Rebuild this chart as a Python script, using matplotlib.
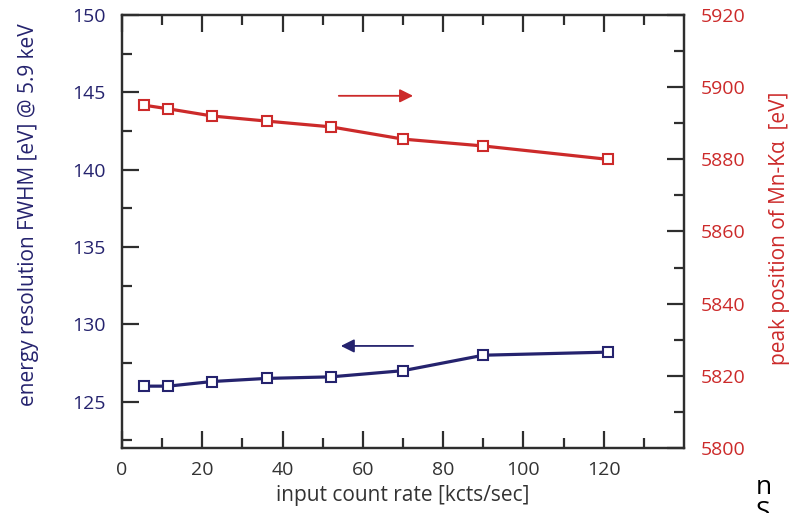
import matplotlib
matplotlib.use('Agg')
import matplotlib.pyplot as plt
from matplotlib.ticker import MultipleLocator

plt.rcParams['font.family'] = ['Open Sans', 'DejaVu Sans']

# data
rate = [5.5, 11.5, 22.5, 36, 52, 70, 90, 121]
fwhm = [126.0, 126.0, 126.3, 126.5, 126.6, 127.0, 128.0, 128.2]
peak = [5895.0, 5894.0, 5892.0, 5890.6, 5889.0, 5885.6, 5883.7, 5880.0]

navy = '#25236e'
red = '#cc2a2a'
spine_c = '#2e2e2e'

fig = plt.figure(figsize=(7.94, 5.13), dpi=100)
ax = fig.add_axes([0.1537, 0.1267, 0.7078, 0.8441])
ax2 = ax.twinx()

ax.plot(rate, fwhm, color=navy, lw=2.3, marker='s', ms=6.5,
        mfc='white', mec=navy, mew=1.5, zorder=3)
ax2.plot(rate, peak, color=red, lw=2.3, marker='s', ms=6.5,
         mfc='white', mec=red, mew=1.5, zorder=3)

ax.set_xlim(0, 140)
ax.set_ylim(122, 150)
ax2.set_ylim(5800, 5920)

ax.set_xticks([0, 20, 40, 60, 80, 100, 120])
ax.set_xticks([10, 30, 50, 70, 90, 110, 130], minor=True)
ax.yaxis.set_major_locator(MultipleLocator(5))
ax.yaxis.set_minor_locator(MultipleLocator(2.5))
ax2.yaxis.set_major_locator(MultipleLocator(20))
ax2.yaxis.set_minor_locator(MultipleLocator(10))

for a in (ax, ax2):
    for s in a.spines.values():
        s.set_linewidth(1.6)
        s.set_color(spine_c)

ax.tick_params(axis='x', which='both', direction='in', top=True,
               colors=spine_c, labelcolor='#333333', labelsize=14, pad=9)
ax.tick_params(axis='x', which='major', length=12, width=1.6)
ax.tick_params(axis='x', which='minor', length=7, width=1.6)
ax.tick_params(axis='y', which='both', direction='in', color=spine_c,
               labelcolor=navy, labelsize=14, pad=12)
ax.tick_params(axis='y', which='major', length=12, width=1.6)
ax.tick_params(axis='y', which='minor', length=7, width=1.6)
ax2.tick_params(axis='y', which='both', direction='in', color=spine_c,
                labelcolor=red, labelsize=14, pad=12)
ax2.tick_params(axis='y', which='major', length=12, width=1.6)
ax2.tick_params(axis='y', which='minor', length=7, width=1.6)

ax.set_xlabel('input count rate [kcts/sec]', fontsize=15, color='#333333', labelpad=5)
ax.set_ylabel('energy resolution FWHM [eV] @ 5.9 keV', fontsize=15, color=navy, labelpad=24)
ax2.set_ylabel('peak position of Mn-K\u03b1  [eV]', fontsize=15, color=red, labelpad=17)
ax.yaxis.label.set_y(0.54)
ax2.yaxis.label.set_y(0.508)

# direction arrows
ax2.annotate('', xy=(72.5, 5897.6), xytext=(54, 5897.6),
             arrowprops=dict(arrowstyle='-|>', color=red, lw=1.3,
                             mutation_scale=20, shrinkA=0, shrinkB=0))
ax.annotate('', xy=(54.5, 128.6), xytext=(72.5, 128.6),
            arrowprops=dict(arrowstyle='-|>', color=navy, lw=1.3,
                            mutation_scale=20, shrinkA=0, shrinkB=0))

# cropped text at the bottom right edge of the source image
fig.text(0.952, 0.037, 'n', fontsize=19, color='black', ha='left', va='baseline')
fig.text(0.952, -0.012, 'S', fontsize=19, color='black', ha='left', va='baseline')

fig.savefig('out.png', dpi=100)
